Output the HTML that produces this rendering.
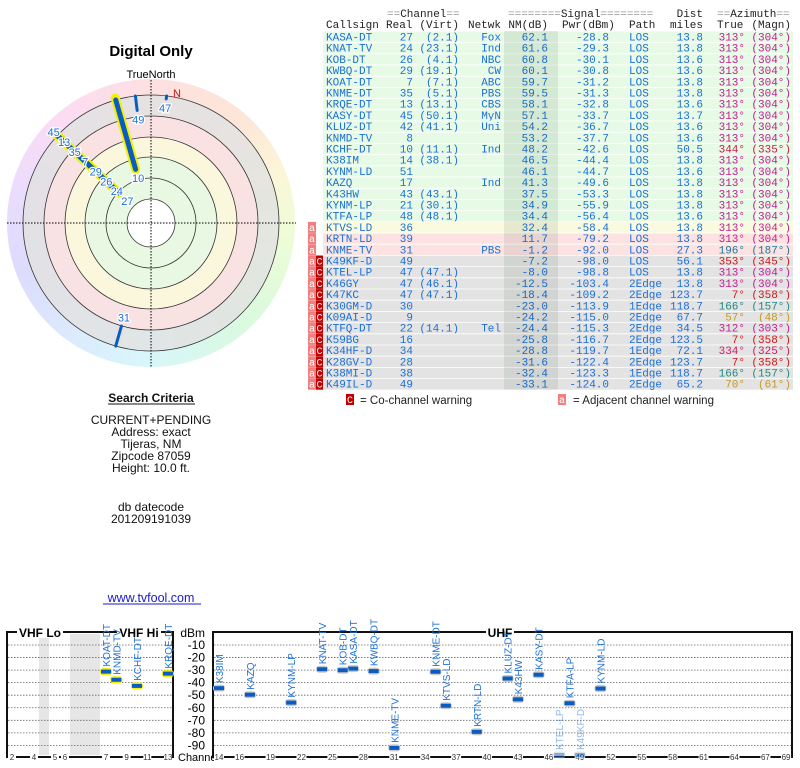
<!DOCTYPE html>
<html><head><meta charset="utf-8">
<style>
html,body{margin:0;padding:0;background:#fff;}
#wrap{position:relative;width:800px;height:768px;overflow:hidden;}
#wheel{position:absolute;left:7px;top:79px;width:288px;height:288px;border-radius:50%;
background:conic-gradient(from 0deg,#fde0e0,#fde6d8 40deg,#fbf6d8 70deg,#eefcd8 95deg,#dcfadc 130deg,#d8f8ee 160deg,#d8f6fb 185deg,#dceafd 215deg,#dcdcfd 250deg,#ecdcfd 285deg,#fcdcf4 320deg,#fde0e0 360deg);}
svg{position:absolute;left:0;top:0;}
</style></head>
<body>
<div id="wrap">
<div id="wheel"></div>
<svg id="s" width="800" height="768" xmlns="http://www.w3.org/2000/svg"></svg>
</div>
<script>
const calls=["KASA-DT","KNAT-TV","KOB-DT","KWBQ-DT","KOAT-DT","KNME-DT","KRQE-DT","KASY-DT","KLUZ-DT","KNMD-TV","KCHF-DT","K38IM","KYNM-LD","KAZQ","K43HW","KYNM-LP","KTFA-LP","KTVS-LD","KRTN-LD","KNME-TV","K49KF-D","KTEL-LP","K46GY","K47KC","K30GM-D","K09AI-D","KTFQ-DT","K59BG","K34HF-D","K28GV-D","K38MI-D","K49IL-D"];
const real=[27,24,26,29,7,35,13,45,42,8,10,14,51,17,43,21,48,36,39,31,49,47,47,47,30,9,22,16,34,28,38,49];
const virt=["(2.1)","(23.1)","(4.1)","(19.1)","(7.1)","(5.1)","(13.1)","(50.1)","(41.1)","","(11.1)","(38.1)","","","(43.1)","(30.1)","(48.1)","","","","","(47.1)","(46.1)","(47.1)","","","(14.1)","","","","",""];
const netwk=["Fox","Ind","NBC","CW","ABC","PBS","CBS","MyN","Uni","","Ind","","","Ind","","","","","","PBS","","","","","","","Tel","","","","",""];
const nm=[62.1,61.6,60.8,60.1,59.7,59.5,58.1,57.1,54.2,53.2,48.2,46.5,46.1,41.3,37.5,34.9,34.4,32.4,11.7,-1.2,-7.2,-8.0,-12.5,-18.4,-23.0,-24.2,-24.4,-25.8,-28.8,-31.6,-32.4,-33.1];
const pwr=[-28.8,-29.3,-30.1,-30.8,-31.2,-31.3,-32.8,-33.7,-36.7,-37.7,-42.6,-44.4,-44.7,-49.6,-53.3,-55.9,-56.4,-58.4,-79.2,-92.0,-98.0,-98.8,-103.4,-109.2,-113.9,-115.0,-115.3,-116.7,-119.7,-122.4,-123.3,-124.0];
const path=["LOS","LOS","LOS","LOS","LOS","LOS","LOS","LOS","LOS","LOS","LOS","LOS","LOS","LOS","LOS","LOS","LOS","LOS","LOS","LOS","LOS","LOS","2Edge","2Edge","1Edge","2Edge","2Edge","2Edge","1Edge","2Edge","1Edge","2Edge"];
const dist=[13.8,13.8,13.6,13.6,13.8,13.8,13.6,13.7,13.6,13.6,50.5,13.8,13.6,13.8,13.8,13.8,13.6,13.8,13.8,27.3,56.1,13.8,13.8,123.7,118.7,67.7,34.5,123.5,72.1,123.7,118.7,65.2];
const azTrue=[313,313,313,313,313,313,313,313,313,313,344,313,313,313,313,313,313,313,313,196,353,313,313,7,166,57,312,7,334,7,166,70];
const azMag=[304,304,304,304,304,304,304,304,304,304,335,304,304,304,304,304,304,304,304,187,345,304,304,358,157,48,303,358,325,358,157,61];
const warnA=[0,0,0,0,0,0,0,0,0,0,0,0,0,0,0,0,0,1,1,1,1,1,1,1,1,1,1,1,1,1,1,1];
const warnC=[0,0,0,0,0,0,0,0,0,0,0,0,0,0,0,0,0,0,0,0,1,1,1,1,1,1,1,1,1,1,1,1];
const dbmTicks=[-10,-20,-30,-40,-50,-60,-70,-80,-90];
const vhfTicks=[2,4,5,6,7,9,11,13];
const uhfTicks=[14,16,19,22,25,28,31,34,37,40,43,46,49,52,55,58,61,64,67,69];

const NS="http://www.w3.org/2000/svg";
const S=document.getElementById('s');
function mk(tag,attrs,parent,txt){const e=document.createElementNS(NS,tag);for(const k in attrs)e.setAttribute(k,attrs[k]);if(txt!==undefined)e.textContent=txt;(parent||S).appendChild(e);return e;}
const BLUE="#1c6fd6";
function azColor(a){if(a>=30&&a<100)return "#c09a20";if(a>=140&&a<230)return a<180?"#208a80":"#207898";if(a<=20||a>=350)return "#d01818";if(a>=340)return "#d01848";if(a>=325)return "#c82060";return "#c02090";}

/* ---------- Table ---------- */
const T=mk('g',{});


const rowTop=i=>31.5+i*11.2;
const mono='"Liberation Mono", monospace';
calls.forEach((c,i)=>{
  const y=rowTop(i);
  const v=nm[i];
  const bg=v>=33?"#e6fae6":v>=13?"#fafade":v>=-7?"#fde2e2":"#e3e3e3";
  const r=mk('rect',{x:323,y:y,width:470,height:11,fill:bg},T);
  
  
  if(warnA[i]){const a=mk('g',{},T);
    mk('rect',{x:308,y:y,width:8,height:11,fill:"#f08080"},a);mk('text',{x:312,y:y+9,'font-size':10,'text-anchor':'middle',fill:'#fff','font-family':mono},a,'a');}
  if(warnC[i]){const a=mk('g',{},T);
    mk('rect',{x:316,y:y,width:7,height:11,fill:"#c00000"},a);mk('text',{x:319.5,y:y+9,'font-size':10,'text-anchor':'middle',fill:'#fff','font-family':mono},a,'C');}
  const by=y+9;
  const tx=(x,s,anchor,col,nm2)=>{const t=mk('text',{x:x,y:by,'font-size':11,'font-family':mono,fill:col||BLUE,'text-anchor':anchor||'start'},T,s);return t;};
  tx(326,c,'start',BLUE,'callsign');
  tx(413,String(real[i]),'end',BLUE,'real-channel');
  if(virt[i])tx(459,virt[i],'end',BLUE,'virtual-channel');
  if(netwk[i])tx(501,netwk[i],'end',BLUE,'network');
  tx(548,nm[i].toFixed(1),'end',BLUE,'nm-db');
  tx(609,pwr[i].toFixed(1),'end',BLUE,'power-dbm');
  tx(629,path[i],'start',BLUE,'path');
  tx(703,dist[i].toFixed(1),'end',BLUE,'distance');
  tx(745,azTrue[i]+'°','end',azColor(azTrue[i]),'azimuth-true');
  tx(791,'('+azMag[i]+'°)','end',azColor(azTrue[i]),'azimuth-magnetic');
});
for(let i=1;i<calls.length;i++){mk('line',{x1:323,x2:793,y1:rowTop(i)-0.1,y2:rowTop(i)-0.1,stroke:'#fff','stroke-width':0.8},T);}
mk('rect',{x:504,y:31,width:54,height:calls.length*11.2,fill:'rgba(0,40,0,0.08)'},T);
const H=mk('g',{'font-family':mono,'font-size':11,fill:'#222'},T);


function hdr(x,y,parts,anchor){const t=mk('text',{x:x,y:y,'text-anchor':anchor||'start'},H);parts.forEach(p=>mk('tspan',p[1]?{fill:'#999'}:{},t,p[0]));return t;}
hdr(387,17,[['==',1],['Channel',0],['==',1]]);
hdr(508,17,[['========',1],['Signal',0],['========',1]]);
mk('text',{x:703,y:17,'text-anchor':'end'},H,'Dist');
hdr(717,17,[['==',1],['Azimuth',0],['==',1]]);
mk('text',{x:326,y:28},H,'Callsign');
mk('text',{x:386,y:28},H,'Real');
mk('text',{x:459,y:28,'text-anchor':'end'},H,'(Virt)');
mk('text',{x:501,y:28,'text-anchor':'end'},H,'Netwk');
mk('text',{x:548,y:28,'text-anchor':'end'},H,'NM(dB)');
mk('text',{x:562,y:28},H,'Pwr(dBm)');
mk('text',{x:629,y:28},H,'Path');
mk('text',{x:703,y:28,'text-anchor':'end'},H,'miles');
mk('text',{x:717,y:28},H,'True');
mk('text',{x:791,y:28,'text-anchor':'end'},H,'(Magn)');
const L=mk('g',{},T);


mk('rect',{x:346,y:394,width:8,height:11,fill:'#c00000'},L);
mk('text',{x:350,y:403,'font-size':10,'text-anchor':'middle',fill:'#fff','font-family':mono},L,'C');
mk('text',{x:360,y:404,'font-size':11.5,'font-family':'"Liberation Sans", sans-serif',fill:'#222'},L,'= Co-channel warning');
mk('rect',{x:558,y:394,width:8,height:11,fill:'#f08080'},L);
mk('text',{x:562,y:403,'font-size':10,'text-anchor':'middle',fill:'#fff','font-family':mono},L,'a');
mk('text',{x:573,y:404,'font-size':11.5,'font-family':'"Liberation Sans", sans-serif',fill:'#222'},L,'= Adjacent channel warning');

/* ---------- Polar ---------- */
const cx=151,cy=223;
const P=mk('g',{});


const rOf=v=>30+(73-v)*1.04;
const sans='"Liberation Sans", sans-serif';
const t1=mk('text',{x:cx,y:56,'font-size':15,'font-weight':'bold','text-anchor':'middle','font-family':sans},P,'Digital Only');

mk('text',{x:cx,y:78,'font-size':11,'text-anchor':'middle','font-family':sans},P,'TrueNorth');
const bands=[[128,'#e2e2e2'],[107,'#fde2e2'],[86,'#fafadc'],[66,'#e4f8e4'],[24,'#ffffff']];
bands.forEach(b=>mk('circle',{cx:cx,cy:cy,r:b[0],fill:b[1],'fill-opacity':b[1]=='#ffffff'?1:0.85},P));
[24,45,66,86,107,128].forEach(r=>mk('circle',{cx:cx,cy:cy,r:r,fill:'none',stroke:'#333','stroke-width':0.8},P));
mk('line',{x1:7,x2:296,y1:cy,y2:cy,stroke:'#000','stroke-dasharray':'1.5,1.5','stroke-width':1},P);
mk('line',{x1:cx,x2:cx,y1:80,y2:367,stroke:'#000','stroke-dasharray':'1.5,1.5','stroke-width':1},P);
const nl=mk('text',{x:173,y:97,'font-size':11,fill:'#d01010','font-family':sans},P,'N');

const pt=(az,r)=>[cx+r*Math.sin(az*Math.PI/180),cy-r*Math.cos(az*Math.PI/180)];
const shown=[];
calls.forEach((c,i)=>{if(nm[i]>-20)shown.push(i);});
shown.slice().reverse().forEach(i=>{
  const a=pt(azTrue[i],rOf(nm[i])),b=pt(azTrue[i],130);
  if(real[i]<=13){mk('line',{x1:a[0],y1:a[1],x2:b[0],y2:b[1],stroke:'#f0f000','stroke-width':9,'stroke-linecap':'round'},P);}
});
shown.slice().reverse().forEach(i=>{
  const a=pt(azTrue[i],rOf(nm[i])),b=pt(azTrue[i],128);
  const l=mk('line',{x1:a[0],y1:a[1],x2:b[0],y2:b[1],stroke:'#0a5cc0','stroke-width':real[i]<=13?5:3,'stroke-linecap':'round'},P);
  
  
});
const lastR={};
shown.forEach(i=>{
  const az=azTrue[i];
  let r=rOf(nm[i])-9;
  if(lastR[az]!==undefined)r=Math.max(r,lastR[az]+14.4);
  if(r>138)return;
  lastR[az]=r;
  const p=pt(az,r);
  const t=mk('text',{x:p[0],y:p[1]+4,'font-size':11,'text-anchor':'middle',fill:BLUE,'font-family':sans,stroke:'#fff','stroke-width':2.5,'paint-order':'stroke'},P,String(real[i]));
  
  
});

/* ---------- Search criteria ---------- */
const C=mk('g',{'font-family':sans,'font-size':12,'text-anchor':'middle',fill:'#111'});


mk('text',{x:cx,y:402,'font-weight':'bold'},C,'Search Criteria');
mk('line',{x1:108,x2:195,y1:404,y2:404,stroke:'#111','stroke-width':1},C);
["CURRENT+PENDING","Address: exact","Tijeras, NM","Zipcode 87059","Height: 10.0 ft."].forEach((s,k)=>mk('text',{x:cx,y:424+k*12},C,s));
mk('text',{x:cx,y:511},C,'db datecode');
mk('text',{x:cx,y:523},C,'201209191039');
const lk=mk('text',{x:cx,y:602,fill:'#1a1ad0','font-size':12.5},C,'www.tvfool.com');

mk('line',{x1:103,x2:201,y1:604,y2:604,stroke:'#1a1ad0','stroke-width':1},C);

/* ---------- Spectrum chart ---------- */
const G=mk('g',{});


const yD=d=>645+(-10-d)*1.255;
const xV=ch=>ch<=6?({2:12,3:23,4:34,5:55,6:65})[ch]:106+(ch-7)*10.33;
const xU=ch=>219+(ch-14)*10.31;
const yTop=632,yBot=757;
mk('rect',{x:39,y:yTop+2,width:10,height:yBot-yTop-4,fill:'#e6e6e6'},G);
mk('rect',{x:70,y:yTop+2,width:30,height:yBot-yTop-4,fill:'#e6e6e6'},G);
dbmTicks.forEach(d=>{
  mk('line',{x1:8,x2:172,y1:yD(d),y2:yD(d),stroke:'#666','stroke-dasharray':'1.5,1.5','stroke-width':0.8},G);
  mk('line',{x1:214,x2:791,y1:yD(d),y2:yD(d),stroke:'#666','stroke-dasharray':'1.5,1.5','stroke-width':0.8},G);
  const t=mk('text',{x:205,y:yD(d)+4,'font-size':12,'text-anchor':'end','font-family':sans},G,String(d));
  
});
mk('text',{x:205,y:637,'font-size':12,'text-anchor':'end','font-family':sans},G,'dBm');
mk('rect',{x:7,y:yTop,width:166,height:yBot-yTop,fill:'none',stroke:'#111','stroke-width':2},G);
mk('rect',{x:213,y:yTop,width:579,height:yBot-yTop,fill:'none',stroke:'#111','stroke-width':2},G);
[[17,63,'VHF Lo'],[117,161,'VHF Hi'],[486,514,'UHF']].forEach(a=>{
  mk('rect',{x:a[0],y:yTop-6,width:a[1]-a[0],height:12,fill:'#fff'},G);
  const t=mk('text',{x:(a[0]+a[1])/2,y:yTop+5,'font-size':12,'font-weight':'bold','text-anchor':'middle','font-family':sans},G,a[2]);
  
});
mk('text',{x:178,y:761,'font-size':11,'font-family':sans},G,'Channel');
vhfTicks.forEach(ch=>{const x=xV(ch);mk('rect',{x:x-4,y:yBot-4,width:8,height:8,fill:'#fff'},G);mk('text',{x:x,y:yBot+3,'font-size':8,'text-anchor':'middle','font-family':sans,fill:'#333'},G,String(ch));});
uhfTicks.forEach(ch=>{const x=xU(ch);mk('rect',{x:x-5,y:yBot-4,width:10,height:8,fill:'#fff'},G);mk('text',{x:x,y:yBot+3,'font-size':8,'text-anchor':'middle','font-family':sans,fill:'#333'},G,String(ch));});
calls.forEach((c,i)=>{
  if(nm[i]<=-10)return;
  const ch=real[i];
  const x=ch<=13?xV(ch):xU(ch);
  const faint=pwr[i]<-95;
  const y=faint?yBot-2:yD(pwr[i]);
  const g=mk('g',{opacity:faint?0.5:1},G);
  
  
  mk('rect',{x:x-6,y:y-3.5,width:12,height:7,rx:3,fill:ch<=13?'#f0f000':'#c8c8c8'},g);
  mk('rect',{x:x-5,y:y-2,width:10,height:4,fill:'#0a5cc0'},g);
  mk('text',{x:0,y:0,'font-size':10,fill:BLUE,'font-family':sans,transform:'translate('+(x+4)+','+(y-5)+') rotate(-90)'},g,c);
});
</script>
</body></html>
